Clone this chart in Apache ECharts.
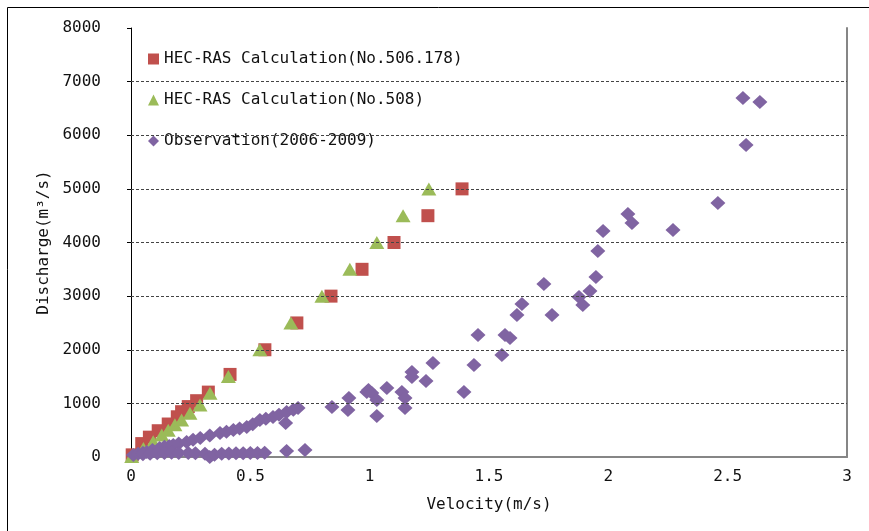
<!DOCTYPE html>
<html><head><meta charset="utf-8">
<script src="https://cdn.jsdelivr.net/npm/echarts@6/dist/echarts.min.js"></script>
<style>html,body{margin:0;padding:0;background:#fff}#c{width:869px;height:531px}</style>
</head><body><div id="c"></div>
<script>
// ---- data ----
const seriesNames = ['HEC-RAS Calculation(No.506.178)', 'HEC-RAS Calculation(No.508)', 'Observation(2006-2009)'];
const xTickValues = [0, 0.5, 1, 1.5, 2, 2.5, 3];
const yTickValues = [0, 1000, 2000, 3000, 4000, 5000, 6000, 7000, 8000];
const gridLineValues = [1000, 2000, 3000, 4000, 5000, 6000, 7000];
const xAxisTitle = 'Velocity(m/s)';
const yAxisTitle = 'Discharge(m\u00B3/s)';

// [velocity (m/s), discharge (m3/s)]
const calc506 = [
  [0.005, 40], [0.045, 250], [0.077, 370], [0.114, 490], [0.156, 615], [0.194, 750],
  [0.212, 845], [0.240, 940], [0.275, 1050], [0.324, 1210], [0.415, 1540], [0.561, 2000],
  [0.695, 2500], [0.838, 3000], [0.968, 3500], [1.102, 4000], [1.244, 4500], [1.387, 5000]
];
const calc508 = [
  [0.003, 10], [0.052, 160], [0.093, 285], [0.129, 410], [0.156, 500], [0.184, 600],
  [0.212, 690], [0.247, 815], [0.289, 970], [0.331, 1190], [0.408, 1500], [0.540, 2000],
  [0.670, 2500], [0.800, 3000], [0.917, 3500], [1.030, 4000], [1.140, 4500], [1.248, 5000]
];
const observation = [
  // upper low-flow band
  [0.010, 37], [0.030, 60], [0.050, 80], [0.066, 93], [0.090, 130], [0.120, 168],
  [0.140, 190], [0.160, 205], [0.177, 224], [0.200, 250], [0.233, 280], [0.260, 320],
  [0.290, 354], [0.330, 400], [0.373, 447], [0.400, 470], [0.429, 503], [0.455, 530],
  [0.485, 559], [0.510, 610], [0.540, 690], [0.565, 715], [0.595, 746], [0.620, 790],
  [0.652, 839], [0.680, 880], [0.700, 914], [0.648, 634],
  // lower band near zero discharge
  [0.050, 50], [0.080, 60], [0.110, 70], [0.140, 75], [0.170, 80], [0.200, 75],
  [0.240, 75], [0.270, 70], [0.310, 60], [0.330, 0], [0.350, 40], [0.380, 60],
  [0.410, 65], [0.440, 70], [0.470, 70], [0.500, 75], [0.530, 75], [0.560, 80],
  [0.652, 110], [0.729, 130],
  // higher flows
  [0.842, 932], [0.913, 1100], [0.909, 876], [0.988, 1212], [0.995, 1250], [1.009, 1193],
  [1.030, 1063], [1.030, 765], [1.072, 1287], [1.135, 1212], [1.148, 1100], [1.148, 914],
  [1.177, 1585], [1.177, 1492], [1.236, 1417], [1.265, 1753], [1.395, 1212], [1.437, 1715],
  [1.454, 2275], [1.554, 1902], [1.567, 2275], [1.588, 2219], [1.617, 2648], [1.638, 2853],
  [1.730, 3226], [1.764, 2648], [1.877, 2983], [1.893, 2834], [1.923, 3095], [1.948, 3356],
  [1.956, 3841], [1.978, 4214], [2.082, 4531], [2.099, 4363], [2.271, 4233], [2.459, 4736],
  [2.564, 6694], [2.635, 6620], [2.577, 5818]
];

// ---- chart ----
const FONT = 'DejaVu Sans Mono';
const chart = echarts.init(document.getElementById('c'), null, {renderer: 'canvas'});
chart.setOption({
  animation: false,
  backgroundColor: '#fff',
  textStyle: {fontFamily: FONT},
  graphic: [{
    type: 'rect', silent: true, z: -10,
    shape: {x: 7.5, y: 7.5, width: 1000, height: 1000},
    style: {fill: 'none', stroke: '#000', lineWidth: 1}
  }],
  grid: {left: 131, top: 28, right: 22, bottom: 74},
  legend: {
    orient: 'vertical', left: 148, top: 51, padding: 0,
    itemWidth: 11, itemHeight: 11, itemGap: 25,
    data: seriesNames,
    textStyle: {fontFamily: FONT, fontSize: 16, lineHeight: 16, color: '#111'}
  },
  xAxis: {
    type: 'value', min: xTickValues[0], max: xTickValues[xTickValues.length - 1], interval: 0.5,
    name: xAxisTitle, nameLocation: 'middle', nameGap: 40,
    nameTextStyle: {fontFamily: FONT, fontSize: 16, color: '#111'},
    axisLine: {show: true, lineStyle: {color: '#868686', width: 2}},
    axisTick: {show: false},
    splitLine: {show: false},
    axisLabel: {fontFamily: FONT, fontSize: 16, color: '#111', margin: 12,
      formatter: v => String(v)}
  },
  yAxis: [{
    type: 'value', min: yTickValues[0], max: yTickValues[yTickValues.length - 1], interval: 1000,
    name: yAxisTitle, nameLocation: 'middle', nameGap: 67, nameRotate: 90,
    nameTextStyle: {fontFamily: FONT, fontSize: 16, color: '#111'},
    axisLine: {show: true, lineStyle: {color: '#000', width: 1}},
    axisTick: {show: true, inside: false, length: 4, lineStyle: {color: '#000'}},
    splitLine: {show: false},
    axisLabel: {fontFamily: FONT, fontSize: 16, color: '#111', margin: 30,
      formatter: v => String(v)}
  }, {
    type: 'value', position: 'right', min: 0, max: 8000, interval: 1000,
    axisLine: {show: true, lineStyle: {color: '#868686', width: 2}},
    axisTick: {show: false}, axisLabel: {show: false}, splitLine: {show: false}
  }],
  series: [{
    type: 'line', data: [], z: 1, silent: true,
    markLine: {
      silent: true, symbol: 'none', label: {show: false}, animation: false,
      lineStyle: {type: [3, 2], color: '#444', width: 1},
      data: gridLineValues.map(v => ({yAxis: v}))
    }
  }, {
    name: seriesNames[0], type: 'scatter', symbol: 'rect', symbolSize: 13,
    itemStyle: {color: '#C0504D', opacity: 1}, data: calc506, z: 2
  }, {
    name: seriesNames[1], type: 'scatter', symbol: 'triangle', symbolSize: [15, 13],
    itemStyle: {color: '#9BBB59', opacity: 1}, data: calc508, z: 3
  }, {
    name: seriesNames[2], type: 'scatter', symbol: 'diamond', symbolSize: [15, 14],
    itemStyle: {color: '#8064A2', opacity: 1}, data: observation, z: 4
  }]
});
</script>
</body></html>
